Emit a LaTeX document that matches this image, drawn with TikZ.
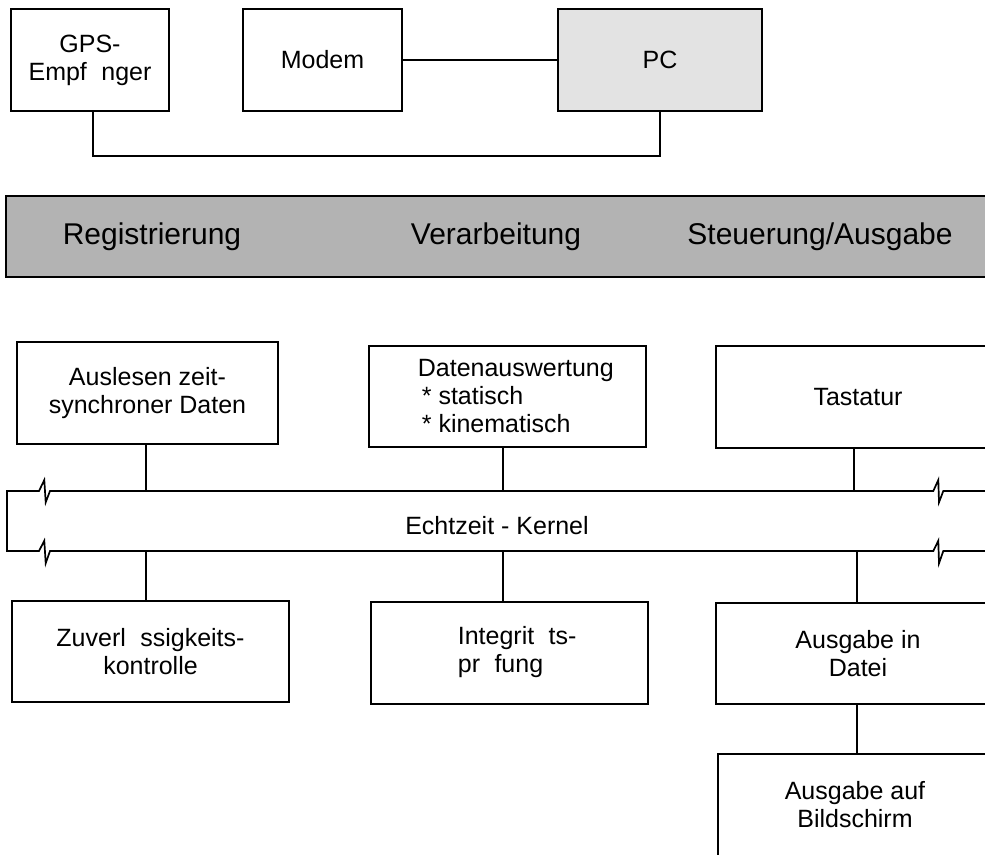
\documentclass[tikz,border=0pt]{standalone}
\usepackage{fontspec}
\setmainfont{Liberation Sans}
\definecolor{pcgray}{HTML}{E3E3E3}
\definecolor{bandgray}{HTML}{B3B3B3}
\begin{document}
\begin{tikzpicture}[x=1pt,y=-1pt,line width=1.7pt,
  box/.style={draw,line width=1.7pt,inner sep=0pt,align=center,font=\fontsize{25}{28}\selectfont},
  txt/.style={inner sep=0pt,font=\fontsize{25}{28}\selectfont},
  bandtxt/.style={inner sep=0pt,font=\fontsize{30}{34}\selectfont},
  conn/.style={line width=1.7pt}]
\useasboundingbox (0,0) rectangle (985,854);
\clip (0,0) rectangle (985,854);
% top row
\node[box,minimum width=158,minimum height=102] (gps) at (90,60) {GPS-\\Empf \hspace{0.3em}nger};
\node[box,minimum width=159,minimum height=102] (modem) at (322.5,60) {Modem};
\node[box,fill=pcgray,minimum width=204,minimum height=102] (pc) at (660,60) {PC};
\coordinate (k) at (0,156);
\draw[conn] (modem.east) -- (pc.west);
\draw[conn] ([xshift=3pt]gps.south) |- (k -| pc.south) -- (pc.south);
% band
\node[draw,fill=bandgray,line width=1.7pt,minimum width=994,minimum height=81,inner sep=0pt] (band) at (503,236.5) {};
\node[bandtxt] (reg) at (152,237) {Registrierung};
\node[bandtxt] (ver) at (496,237) {Verarbeitung};
\node[bandtxt] (steu) at (820,237) {Steuerung/Ausgabe};
% bus
\draw[line width=1.7pt,line join=miter]
  (995,491) -- (943.3,491) -- (939,502.3) -- (938.3,480) -- (933.3,491)
  -- (50,491) -- (45.7,502.3) -- (44.3,480) -- (39,491) -- (7,491) -- (7,551)
  -- (39,551) -- (44.3,540.7) -- (45.7,563.3) -- (50,551)
  -- (933.3,551) -- (938.3,540.7) -- (939,563.3) -- (943.3,551) -- (995,551);
\node[txt] (bus) at (497,526) {Echtzeit - Kernel};
\coordinate (bt) at (0,491);
\coordinate (bb) at (0,551);
% upper boxes
\node[box,minimum width=261,minimum height=102] (A) at (147.5,393) {Auslesen zeit-\\synchroner Daten};
\node[box,minimum width=277,minimum height=101] (B) at (507.5,396.5) {};
\node[txt,align=left,anchor=west] (Bt) at (417,396) {Datenauswertung\\\hspace{4pt}* statisch\\\hspace{4pt}* kinematisch};
\node[box,minimum width=284,minimum height=102] (E) at (858,397) {Tastatur};
% lower boxes
\node[box,minimum width=277,minimum height=101] (C) at (150.5,651.5) {Zuverl \hspace{0.3em}ssigkeits-\\kontrolle};
\node[box,minimum width=277,minimum height=102] (D) at (509.5,653) {};
\node[txt,align=left,anchor=west] (Dt) at (457,652) {Integrit \hspace{0.3em}ts-\\pr \hspace{0.3em}fung};
\node[box,minimum width=284,minimum height=101] (F) at (858,653.5) {Ausgabe in\\Datei};
\node[box,minimum width=282,minimum height=116] (G) at (859,812) {};
\node[txt,align=center] (Gt) at (855,805) {Ausgabe auf\\Bildschirm};
% connectors
\draw[conn] ([xshift=-1.5pt]A.south) -- ([xshift=-1.5pt]A.south |- bt);
\draw[conn] ([xshift=-4.5pt]B.south) -- ([xshift=-4.5pt]B.south |- bt);
\draw[conn] ([xshift=-4pt]E.south) -- ([xshift=-4pt]E.south |- bt);
\draw[conn] ([xshift=-4.5pt]C.north |- bb) -- ([xshift=-4.5pt]C.north);
\draw[conn] ([xshift=-6.5pt]D.north |- bb) -- ([xshift=-6.5pt]D.north);
\draw[conn] ([xshift=-1pt]F.north |- bb) -- ([xshift=-1pt]F.north);
\draw[conn] ([xshift=-1pt]F.south) -- ([xshift=-1pt]F.south |- G.north);
\end{tikzpicture}
\end{document}
